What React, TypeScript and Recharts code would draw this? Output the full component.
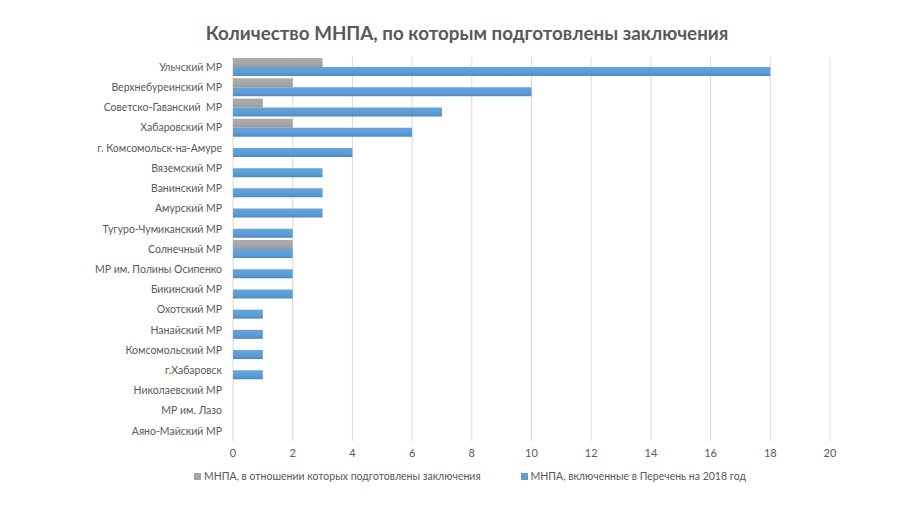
import { BarChart, Bar, XAxis, YAxis, CartesianGrid } from 'recharts';

const districts = [
  'Ульчский МР',
  'Верхнебуреинский МР',
  'Советско-Гаванский\u00A0 МР',
  'Хабаровский МР',
  'г. Комсомольск-на-Амуре',
  'Вяземский МР',
  'Ванинский МР',
  'Амурский МР',
  'Тугуро-Чумиканский МР',
  'Солнечный МР',
  'МР им. Полины Осипенко',
  'Бикинский МР',
  'Охотский МР',
  'Нанайский МР',
  'Комсомольский МР',
  'г.Хабаровск',
  'Николаевский МР',
  'МР им. Лазо',
  'Аяно-Майский МР',
];

// МНПА, в отношении которых подготовлены заключения
const prepared = [3, 2, 1, 2, 0, 0, 0, 0, 0, 2, 0, 0, 0, 0, 0, 0, 0, 0, 0];
// МНПА, включенные в Перечень на 2018 год
const included = [18, 10, 7, 6, 4, 3, 3, 3, 2, 2, 2, 2, 1, 1, 1, 1, 0, 0, 0];

const xTicks = [0, 2, 4, 6, 8, 10, 12, 14, 16, 18, 20];

const chartTitle = 'Количество МНПА, по которым подготовлены заключения';
const seriesNames = {
  prepared: 'МНПА, в отношении которых подготовлены заключения',
  included: 'МНПА, включенные в Перечень на 2018 год',
};

const data = districts.map((name, i) => ({
  name,
  prepared: prepared[i],
  included: included[i],
}));

const FONT = 'Lato, "Open Sans", sans-serif';
const TEXT = '#595959';

function ChartLegend() {
  const items = [
    { label: seriesNames.prepared, color: '#a5a5a5' },
    { label: seriesNames.included, color: '#5b9bd5' },
  ];
  return (
    <div
      style={{
        position: 'absolute',
        top: 470,
        left: 0,
        width: 940,
        display: 'flex',
        justifyContent: 'center',
        gap: 40,
        fontFamily: FONT,
        fontSize: 10.5,
        color: TEXT,
      }}
    >
      {items.map((it) => (
        <div key={it.label} style={{ display: 'flex', alignItems: 'center' }}>
          <span style={{ width: 7, height: 7, background: it.color, display: 'inline-block', marginRight: 3 }} />
          <span>{it.label}</span>
        </div>
      ))}
    </div>
  );
}

export default function App() {
  return (
    <div style={{ position: 'relative', width: 922, height: 519, background: '#fff' }}>
      <style>{'body{margin:0}'}</style>
      <div
        style={{
          position: 'absolute',
          top: 21,
          left: 0,
          width: 934,
          textAlign: 'center',
          fontFamily: FONT,
          fontWeight: 700,
          fontSize: 18.8,
          color: TEXT,
        }}
      >
        {chartTitle}
      </div>
      <BarChart
        width={922}
        height={519}
        data={data}
        layout="vertical"
        margin={{ top: 57, right: 92, bottom: 48, left: 0 }}
        barCategoryGap="5.5%"
        barGap={0}
      >
        <defs>
          <linearGradient id="blueFill" x1="0" y1="0" x2="0" y2="1">
            <stop offset="0%" stopColor="#66a4db" />
            <stop offset="65%" stopColor="#5b9bd5" />
            <stop offset="100%" stopColor="#4d89c3" />
          </linearGradient>
          <linearGradient id="grayFill" x1="0" y1="0" x2="0" y2="1">
            <stop offset="0%" stopColor="#adadad" />
            <stop offset="65%" stopColor="#a5a5a5" />
            <stop offset="100%" stopColor="#989898" />
          </linearGradient>
        </defs>
        <CartesianGrid horizontal={false} stroke="#d9d9d9" />
        <XAxis
          type="number"
          domain={[0, 20]}
          ticks={xTicks}
          axisLine={false}
          tickLine={false}
          tick={{ fill: TEXT, fontSize: 11, fontFamily: FONT }}
          height={30}
        />
        <YAxis
          type="category"
          dataKey="name"
          width={233}
          axisLine={false}
          tickLine={false}
          tickMargin={5}
          interval={0}
          tick={{ fill: TEXT, fontSize: 10.5, fontFamily: FONT }}
        />
        <Bar dataKey="prepared" name={seriesNames.prepared} fill="url(#grayFill)" isAnimationActive={false} />
        <Bar dataKey="included" name={seriesNames.included} fill="url(#blueFill)" isAnimationActive={false} />
      </BarChart>
      <ChartLegend />
    </div>
  );
}
